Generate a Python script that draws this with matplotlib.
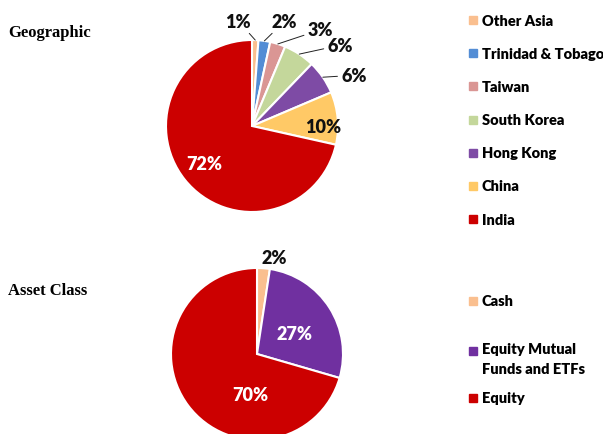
import numpy as np
import matplotlib.pyplot as plt

# Geographic breakdown (clockwise from 12 o'clock)
geo_names = ['Other Asia', 'Trinidad & Tobago', 'Taiwan', 'South Korea',
             'Hong Kong', 'China', 'India']
geo_values = [1.2, 2.2, 2.9, 5.9, 6.4, 9.9, 71.5]
geo_labels = ['1%', '2%', '3%', '6%', '6%', '10%', '72%']
geo_colors = ['#FABF8F', '#538DD5', '#DA9694', '#C4D79B', '#7E4BA5',
              '#FFC966', '#CC0000']

# Asset class breakdown
asset_names = ['Cash', 'Equity Mutual\nFunds and ETFs', 'Equity']
asset_values = [2.4, 27.1, 70.5]
asset_labels = ['2%', '27%', '70%']
asset_colors = ['#FABF8F', '#7030A0', '#CC0000']

W, H = 603, 435
R = 86  # pie radius in px
lab_font = 'Lato'
lab_weight = 'heavy'

fig = plt.figure(figsize=(W / 100, H / 100), dpi=100)


def pie_axes(cx, cy, half=135):
    ax = fig.add_axes([(cx - half) / W, (H - cy - half) / H, 2 * half / W, 2 * half / H])
    return ax, half / R


def draw_pie(ax, lim, values, colors, labels, label_pos, label_colors, leaders):
    wedges, _ = ax.pie(values, colors=colors, startangle=90, counterclock=False,
                       radius=1, wedgeprops=dict(edgecolor='white', linewidth=1.5))
    ax.set_xlim(-lim, lim)
    ax.set_ylim(-lim, lim)
    ax.set_aspect('auto')
    ax.axis('off')
    for w, lab, pos, col, lead in zip(wedges, labels, label_pos, label_colors, leaders):
        if lead:
            ang = np.deg2rad((w.theta1 + w.theta2) / 2)
            ax.annotate(lab, xy=(np.cos(ang) * 1.0, np.sin(ang) * 1.0), xytext=pos,
                        ha='center', va='center', fontsize=13, fontweight=lab_weight,
                        family=lab_font, color=col,
                        arrowprops=dict(arrowstyle='-', color='#222222', lw=0.7,
                                        shrinkA=1, shrinkB=0))
        else:
            ax.text(pos[0], pos[1], lab, ha='center', va='center', fontsize=13,
                    fontweight=lab_weight, family=lab_font, color=col)
    return wedges


# Geographic pie
ax1, lim1 = pie_axes(252, 127)
geo_pos = [(-0.16, 1.22), (0.38, 1.22), (0.80, 1.12), (1.03, 0.94),
           (1.19, 0.59), (0.83, 0.0), (-0.55, -0.44)]
geo_txt_col = ['#111111'] * 6 + ['white']
geo_lead = [True, True, True, True, True, False, False]
draw_pie(ax1, lim1, geo_values, geo_colors, geo_labels, geo_pos, geo_txt_col, geo_lead)

# Asset class pie
ax2, lim2 = pie_axes(257, 355)
asset_pos = [(0.20, 1.12), (0.44, 0.24), (-0.08, -0.47)]
asset_txt_col = ['#111111', 'white', 'white']
draw_pie(ax2, lim2, asset_values, asset_colors, asset_labels, asset_pos,
         asset_txt_col, [False, False, False])

# Section titles
fig.text(8 / W, 1 - 33 / H, 'Geographic', family='Liberation Serif', fontweight='bold',
         fontsize=12, va='center', ha='left')
fig.text(8 / W, 1 - 291 / H, 'Asset Class', family='Liberation Serif', fontweight='bold',
         fontsize=12, va='center', ha='left')


# Legends drawn by hand
def legend_entry(y, name, color):
    fig.patches.append(plt.Rectangle((469 / W, 1 - (y + 4) / H), 8 / W, 8 / H,
                                     transform=fig.transFigure, color=color))
    if '\n' in name:
        fig.text(482 / W, 1 - (y - 9) / H, name, family=lab_font, fontweight=lab_weight,
                 fontsize=10.5, va='top', ha='left', linespacing=1.6)
    else:
        fig.text(482 / W, 1 - y / H, name, family=lab_font, fontweight=lab_weight,
                 fontsize=10.5, va='center', ha='left')


for i, (n, c) in enumerate(zip(geo_names, geo_colors)):
    legend_entry(21 + i * 33.2, n, c)

asset_leg_y = [302, 352, 399]
for y, n, c in zip(asset_leg_y, asset_names, asset_colors):
    legend_entry(y, n, c)

fig.savefig('out.png', dpi=100)
